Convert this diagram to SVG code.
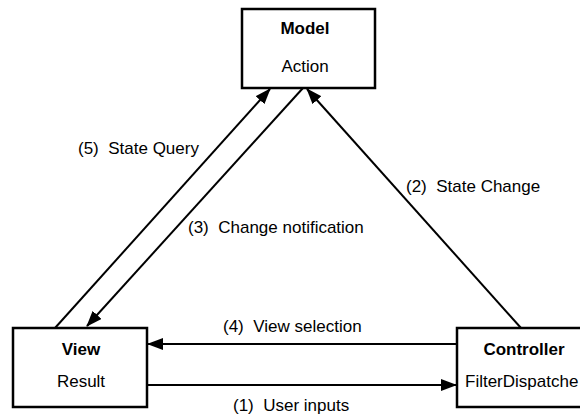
<svg xmlns="http://www.w3.org/2000/svg" width="580" height="414" viewBox="0 0 580 414">
<style>
.box{fill:#fff;stroke:#000;stroke-width:2.5}
.t{font-family:"Liberation Sans",Arial,sans-serif;font-size:17px;fill:#000}
.b{font-weight:bold}
.c{text-anchor:middle}
.ln{stroke:#000;stroke-width:2;fill:none}
</style>
<defs>
<marker id="ah" markerUnits="userSpaceOnUse" markerWidth="16" markerHeight="12" refX="15" refY="6" orient="auto">
<path d="M0,0 L16,6 L0,12 z" fill="#000"/>
</marker>
</defs>
<rect width="580" height="414" fill="#fff"/>
<g id="connectors">
<line class="ln" x1="55" y1="328" x2="270" y2="89" marker-end="url(#ah)"/>
<line class="ln" x1="303" y1="88" x2="87" y2="326" marker-end="url(#ah)"/>
<line class="ln" x1="521" y1="328" x2="307" y2="89" marker-end="url(#ah)"/>
<line class="ln" x1="457" y1="344" x2="148" y2="344" marker-end="url(#ah)"/>
<line class="ln" x1="148" y1="385" x2="456" y2="385" marker-end="url(#ah)"/>
<text class="t" xml:space="preserve" x="78" y="154">(5)  State Query</text>
<text class="t" xml:space="preserve" x="406" y="192">(2)  State Change</text>
<text class="t" xml:space="preserve" x="188" y="233">(3)  Change notification</text>
<text class="t" xml:space="preserve" x="223" y="332">(4)  View selection</text>
<text class="t" xml:space="preserve" x="233" y="411">(1)  User inputs</text>
</g>
<g id="model">
<rect class="box" x="242" y="9" width="133" height="79"/>
<text class="t b c" x="305" y="34">Model</text>
<text class="t c" x="305" y="72">Action</text>
</g>
<g id="view">
<rect class="box" x="13" y="328" width="134" height="79"/>
<text class="t b c" x="81" y="355">View</text>
<text class="t c" x="81" y="387">Result</text>
</g>
<g id="controller">
<rect class="box" x="457" y="328" width="135" height="79"/>
<text class="t b c" x="524" y="355">Controller</text>
<text class="t" x="465" y="387">FilterDispatche</text>
</g>
</svg>
